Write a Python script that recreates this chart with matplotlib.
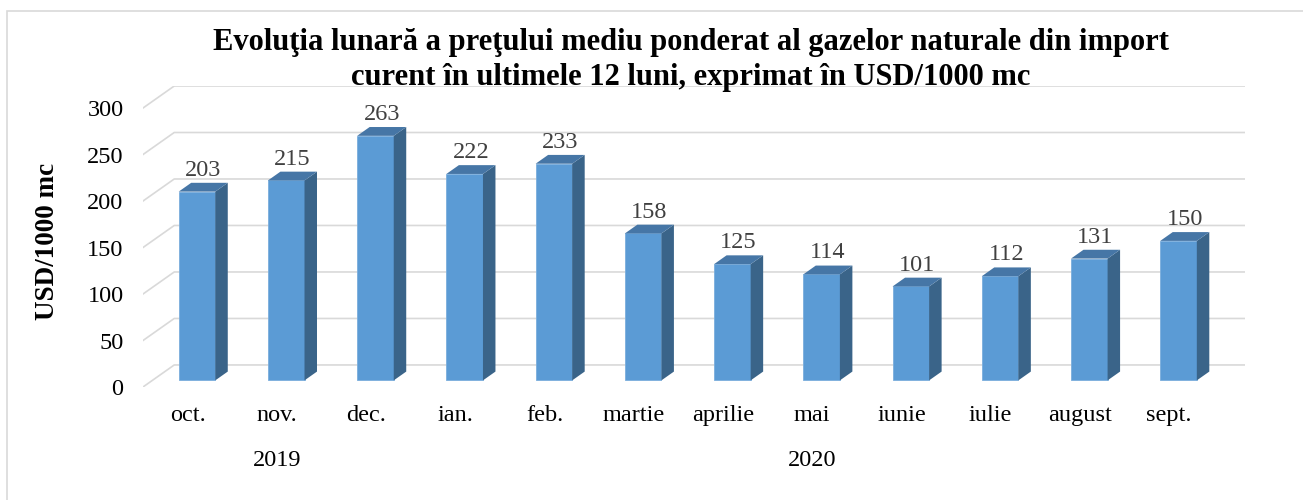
import matplotlib
matplotlib.use('Agg')
import matplotlib.pyplot as plt
from matplotlib.patches import Polygon, Rectangle
from matplotlib.transforms import blended_transform_factory

plt.rcParams['font.family'] = ['Liberation Serif', 'DejaVu Serif']

months = ['oct.', 'nov.', 'dec.', 'ian.', 'feb.', 'martie', 'aprilie',
          'mai', 'iunie', 'iulie', 'august', 'sept.']
prices = [203, 215, 263, 222, 233, 158, 125, 114, 101, 112, 131, 150]
years = ['2019', '2020']
year_first = [0, 3]
year_last = [2, 11]
y_ticks = [0, 50, 100, 150, 200, 250, 300]

title_lines = ['Evoluţia lunară a preţului mediu ponderat al gazelor naturale din import',
               'curent în ultimele 12 luni, exprimat în USD/1000 mc']

# fake 3d: depth offsets of the back wall in data units
DX = 0.35
DY = 23.7
bar_w = 0.41
d0, d1 = 0.3, 0.7   # bar front/back depth as fraction of floor depth

front_c = '#5b9bd5'
side_c = '#3a6489'
top_c = '#4676a6'
grid_c = '#d9d9d9'

fig = plt.figure(figsize=(13.03, 5.0), dpi=100)
ax = fig.add_axes([143 / 1303, 1 - 387 / 500, (1245 - 143) / 1303, (387 - 86) / 500])
ax.set_xlim(-0.5, len(months) - 0.5 + DX)
ax.set_ylim(0, 300 + DY)
for s in ax.spines.values():
    s.set_visible(False)

# gridlines: diagonal on the side wall + horizontal on the back wall
for v in y_ticks:
    ax.plot([-0.5, -0.5 + DX, len(months) - 0.5 + DX], [v, v + DY, v + DY],
            color=grid_c, lw=1.2, zorder=1)

for i, v in enumerate(prices):
    xl = i - bar_w / 2 + d0 * DX
    xr = xl + bar_w
    yb = d0 * DY
    ddx = (d1 - d0) * DX
    ddy = (d1 - d0) * DY
    ax.add_patch(Rectangle((xl, yb), bar_w, v, facecolor=front_c,
                           edgecolor='#7aaedd', lw=0.6, zorder=3))
    ax.add_patch(Polygon([(xr, yb), (xr + ddx, yb + ddy), (xr + ddx, yb + v + ddy), (xr, yb + v)],
                         closed=True, facecolor=side_c, edgecolor='none', zorder=3))
    ax.add_patch(Polygon([(xl, yb + v), (xr, yb + v), (xr + ddx, yb + v + ddy), (xl + ddx, yb + v + ddy)],
                         closed=True, facecolor=top_c, edgecolor='none', zorder=3))
    ax.annotate(str(v), (xl + (bar_w + ddx) / 2, yb + v + ddy), xytext=(0, 1.5),
                textcoords='offset points', ha='center', va='bottom',
                fontsize=17.5, color='#404040')

ax.set_yticks(y_ticks)
ax.set_yticklabels([str(v) for v in y_ticks], fontsize=17.5)
ax.set_xticks(range(len(months)))
ax.set_xticklabels(months, fontsize=17.5)
ax.tick_params(axis='y', length=0, pad=14)
ax.tick_params(axis='x', length=0, pad=13)

tr = blended_transform_factory(ax.transData, fig.transFigure)
for name, a, b in zip(years, year_first, year_last):
    ax.text((a + b) / 2, 0.08, name, transform=tr, ha='center', va='center', fontsize=17.5)

fig.text(47 / 1303, 1 - 241 / 500, 'USD/1000 mc', rotation=90, ha='center', va='center',
         fontsize=19.5, fontweight='bold')
for line, base in zip(title_lines, [50, 85]):
    fig.text(691 / 1303, 1 - base / 500, line, ha='center', va='baseline', fontsize=22,
             fontweight='bold', zorder=5)

fig.patches.append(Rectangle((7 / 1303, -0.05), 1.1, 1.05 - 11 / 500, transform=fig.transFigure,
                             fill=False, edgecolor=grid_c, lw=1.2))

fig.savefig('out.png', dpi=100)
